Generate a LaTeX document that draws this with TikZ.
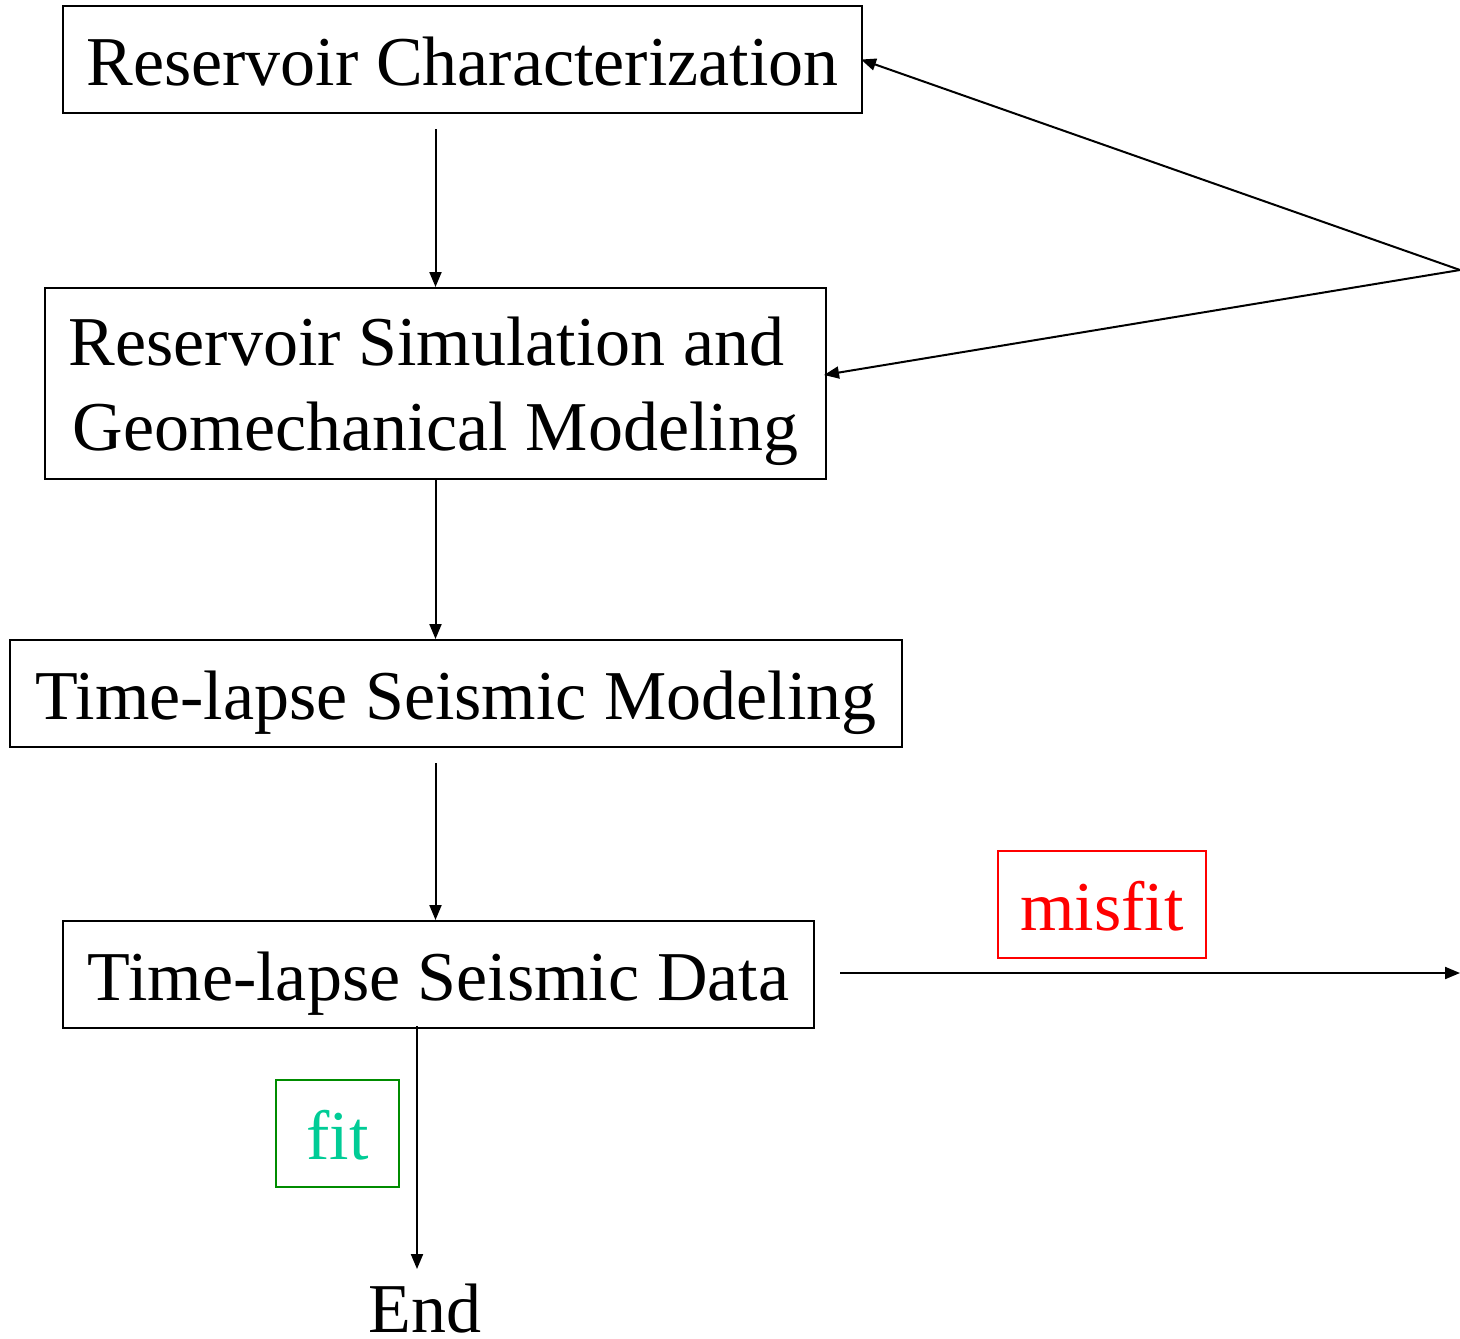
\documentclass[tikz,border=0pt]{standalone}
\usepackage{fontspec}
\setmainfont{Liberation Serif}
\usetikzlibrary{arrows.meta}
\definecolor{fitgreen}{RGB}{0,140,0}
\definecolor{fittext}{RGB}{0,204,150}
\begin{document}
\begin{tikzpicture}[x=0.5pt,y=-0.5pt,
  every node/.style={font=\fontsize{35}{42.5}\selectfont},
  box/.style={draw,line width=1pt,inner sep=0pt,minimum height=53.5pt,text height=26pt,text depth=0pt},
  arr/.style={line width=1pt,-{Triangle[length=7.5pt,width=6pt]}}]
\useasboundingbox (0,0) rectangle (1460,1338);
\node[draw,line width=1pt,inner sep=0pt,minimum width=390.5pt,minimum height=95.5pt,align=center,text depth=0pt] (b2) at (435.5,383.5) {Reservoir Simulation and\hspace*{9pt}\\ Geomechanical Modeling};
\node[box,minimum width=399.5pt] (b1) at (462.5,59.5) {Reservoir Characterization};
\node[box,minimum width=446pt] (b3) at (456,693.5) {Time-lapse Seismic Modeling};
\node[box,minimum width=375.5pt] (b4) at (438.5,974.5) {Time-lapse Seismic Data};
\node[box,minimum width=104pt,draw=red,text=red] (mis) at (1102,904.5) {misfit};
\node[box,minimum width=61.5pt,draw=fitgreen,text=fittext] (fit) at (337.5,1133.5) {fit};
\node[anchor=base,inner sep=0pt] (end) at (425,1332) {End};
\coordinate (p) at (1460,270);
\coordinate (q) at (1460,973);
\draw[arr] ([yshift=-7.5pt]b1.south -| b2.north) -- (b2.north);
\draw[arr] (b2.south) -- (b3.north -| b2.south);
\draw[arr] ([yshift=-7.5pt]b3.south -| b2.south) -- (b4.north -| b2.south);
\draw[arr] ([yshift=1.5pt]b4.south -| 417,0) -- ([yshift=7pt]end.north -| 417,0);
\draw[arr] ([xshift=12.5pt,yshift=0.75pt]b4.east) -- (q);
\draw[arr] (p) -- ([xshift=-1pt]b1.east);
\draw[arr] (p) -- ([xshift=-1.5pt,yshift=4.25pt]b2.east);
\end{tikzpicture}
\end{document}
